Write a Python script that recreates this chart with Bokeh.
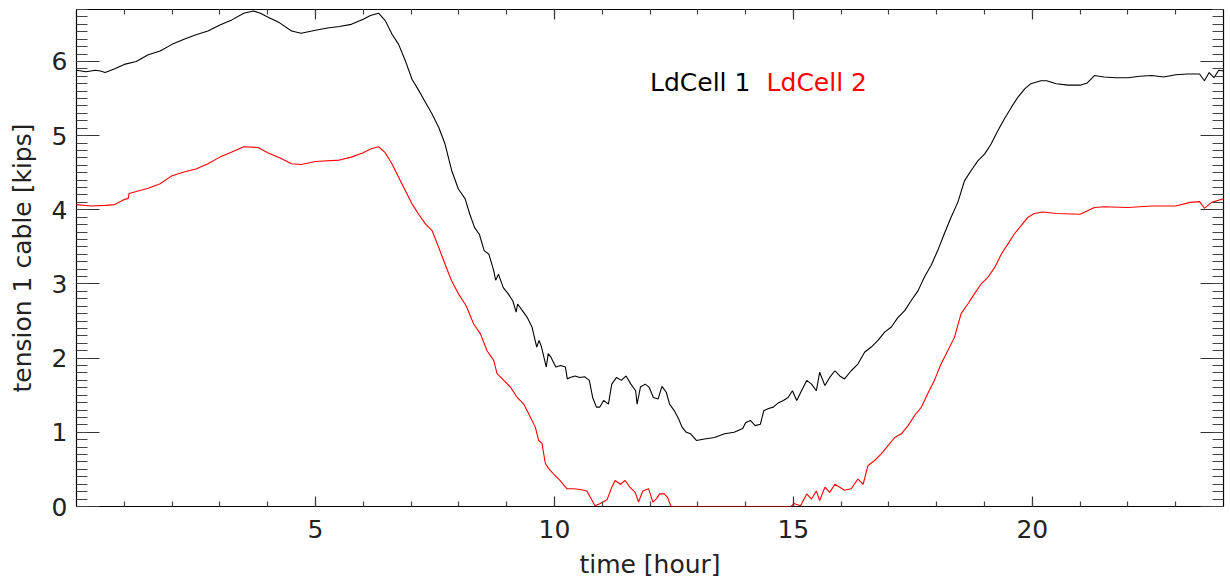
from bokeh.plotting import figure
from bokeh.models import FixedTicker, LinearAxis, Range1d, Label, CustomJSTickFormatter
from bokeh.embed import file_html
from bokeh.resources import INLINE

# ---------------- data ----------------
t_black = [0.0, 0.2, 0.4, 0.5, 0.6, 0.8, 1.0, 1.25, 1.5, 1.75, 2.0, 2.25, 2.5, 2.75, 3.0, 3.25, 3.5, 3.7, 3.85,
           4.0, 4.25, 4.5, 4.7, 5.0, 5.25, 5.5, 5.75, 6.0, 6.15, 6.32, 6.46, 6.60, 6.74, 6.88, 7.02, 7.16, 7.30,
           7.44, 7.58, 7.71, 7.85, 7.99, 8.13, 8.23, 8.33, 8.43, 8.53, 8.63, 8.73, 8.77, 8.83, 8.93, 9.03, 9.13,
           9.20, 9.23, 9.33, 9.43, 9.53, 9.63, 9.68, 9.73, 9.83, 9.87, 9.93, 10.03, 10.13, 10.23, 10.27, 10.33,
           10.43, 10.53, 10.63, 10.73, 10.80, 10.88, 10.95, 11.03, 11.13, 11.20, 11.30, 11.40, 11.50, 11.60,
           11.70, 11.73, 11.80, 11.90, 11.98, 12.07, 12.17, 12.25, 12.34, 12.41, 12.51, 12.60, 12.67, 12.76,
           12.85, 12.97, 13.14, 13.35, 13.56, 13.76, 13.94, 14.00, 14.10, 14.20, 14.31, 14.38, 14.48, 14.58,
           14.69, 14.79, 14.89, 14.98, 15.07, 15.17, 15.28, 15.38, 15.48, 15.55, 15.66, 15.76, 15.87, 15.97,
           16.07, 16.21, 16.35, 16.49, 16.63, 16.77, 16.91, 17.05, 17.19, 17.33, 17.47, 17.61, 17.74, 17.88,
           18.02, 18.16, 18.30, 18.44, 18.58, 18.72, 18.86, 19.00, 19.14, 19.28, 19.42, 19.56, 19.70, 19.84,
           19.97, 20.18, 20.3, 20.5, 20.75, 21.0, 21.15, 21.3, 21.5, 21.75, 22.0, 22.25, 22.5, 22.75, 23.0,
           23.25, 23.5, 23.6, 23.7, 23.8, 23.9, 24.0]
v_black = [5.88, 5.86, 5.88, 5.87, 5.85, 5.90, 5.96, 6.00, 6.09, 6.14, 6.23, 6.30, 6.36, 6.41, 6.49, 6.56, 6.65,
           6.68, 6.65, 6.60, 6.52, 6.41, 6.38, 6.42, 6.45, 6.47, 6.50, 6.57, 6.62, 6.65, 6.55, 6.37, 6.23, 6.01,
           5.76, 5.61, 5.45, 5.29, 5.11, 4.89, 4.53, 4.28, 4.15, 3.94, 3.76, 3.67, 3.45, 3.40, 3.18, 3.05, 3.13,
           2.95, 2.87, 2.77, 2.62, 2.73, 2.64, 2.55, 2.42, 2.15, 2.24, 2.15, 1.88, 2.06, 2.01, 1.88, 1.90, 1.88,
           1.72, 1.74, 1.76, 1.74, 1.75, 1.70, 1.47, 1.34, 1.34, 1.43, 1.38, 1.65, 1.74, 1.70, 1.76, 1.65, 1.56,
           1.38, 1.61, 1.65, 1.61, 1.47, 1.45, 1.62, 1.54, 1.38, 1.29, 1.18, 1.07, 1.00, 0.98, 0.89, 0.91, 0.93,
           0.98, 1.00, 1.05, 1.13, 1.16, 1.09, 1.11, 1.29, 1.32, 1.34, 1.40, 1.43, 1.47, 1.56, 1.43, 1.56, 1.70,
           1.65, 1.56, 1.81, 1.63, 1.74, 1.83, 1.76, 1.72, 1.83, 1.92, 2.08, 2.15, 2.24, 2.35, 2.42, 2.55, 2.64,
           2.78, 2.91, 3.09, 3.25, 3.45, 3.68, 3.90, 4.10, 4.39, 4.53, 4.66, 4.75, 4.89, 5.07, 5.23, 5.38, 5.52,
           5.63, 5.70, 5.74, 5.74, 5.70, 5.68, 5.68, 5.71, 5.81, 5.79, 5.78, 5.78, 5.80, 5.81, 5.79, 5.82, 5.83,
           5.83, 5.74, 5.85, 5.78, 5.88, 5.87]

t_red = [0.0, 0.3, 0.6, 0.8, 1.0, 1.08, 1.1, 1.5, 1.75, 2.0, 2.25, 2.5, 2.75, 3.0, 3.25, 3.5, 3.8, 4.0, 4.25,
         4.5, 4.7, 5.0, 5.5, 5.75, 6.0, 6.15, 6.32, 6.46, 6.60, 6.74, 6.88, 7.02, 7.16, 7.30, 7.44, 7.58, 7.71,
         7.85, 7.99, 8.13, 8.17, 8.31, 8.45, 8.59, 8.73, 8.80, 8.94, 9.08, 9.22, 9.36, 9.50, 9.60, 9.67, 9.74,
         9.81, 9.88, 9.98, 10.12, 10.26, 10.40, 10.54, 10.68, 10.78, 10.85, 10.96, 11.10, 11.20, 11.27, 11.38,
         11.48, 11.58, 11.69, 11.76, 11.85, 11.97, 12.06, 12.14, 12.20, 12.30, 12.37, 12.44, 14.95, 15.01,
         15.15, 15.28, 15.38, 15.48, 15.55, 15.66, 15.76, 15.87, 15.97, 16.07, 16.21, 16.35, 16.46, 16.56,
         16.70, 16.84, 16.98, 17.12, 17.26, 17.40, 17.54, 17.68, 17.81, 17.95, 18.09, 18.23, 18.37, 18.51,
         18.65, 18.79, 18.93, 19.07, 19.21, 19.35, 19.49, 19.63, 19.77, 19.91, 20.04, 20.22, 20.5, 21.0,
         21.3, 21.5, 22.0, 22.5, 23.0, 23.3, 23.5, 23.6, 23.75, 24.0]
v_red = [4.07, 4.05, 4.06, 4.07, 4.14, 4.15, 4.22, 4.29, 4.35, 4.46, 4.51, 4.55, 4.62, 4.71, 4.78, 4.85, 4.84,
         4.77, 4.70, 4.62, 4.61, 4.65, 4.67, 4.71, 4.77, 4.82, 4.85, 4.77, 4.62, 4.44, 4.26, 4.08, 3.94, 3.81,
         3.72, 3.49, 3.27, 3.04, 2.87, 2.73, 2.68, 2.46, 2.33, 2.10, 1.97, 1.79, 1.70, 1.61, 1.47, 1.38, 1.20,
         1.07, 0.89, 0.85, 0.58, 0.51, 0.44, 0.35, 0.24, 0.24, 0.23, 0.21, 0.09, 0.01, 0.04, 0.09, 0.26, 0.35,
         0.30, 0.35, 0.26, 0.19, 0.06, 0.21, 0.24, 0.06, 0.11, 0.17, 0.17, 0.12, 0.00, 0.00, 0.04, 0.01, 0.17,
         0.10, 0.21, 0.08, 0.26, 0.19, 0.30, 0.26, 0.22, 0.24, 0.37, 0.30, 0.55, 0.62, 0.71, 0.82, 0.93, 0.98,
         1.09, 1.23, 1.34, 1.52, 1.70, 1.92, 2.10, 2.28, 2.60, 2.73, 2.87, 3.00, 3.09, 3.22, 3.40, 3.54, 3.68,
         3.79, 3.90, 3.95, 3.97, 3.95, 3.94, 4.03, 4.04, 4.03, 4.05, 4.05, 4.10, 4.11, 4.02, 4.10, 4.15]

series_names = ["LdCell 1", "LdCell 2"]
x_major = [5, 10, 15, 20]
x_minor = list(range(1, 24))
y_major = [0, 1, 2, 3, 4, 5, 6]
y_minor = [round(0.1 * i, 1) for i in range(0, 68)]

# ---------------- figure ----------------
FONT = "DejaVu Sans"
TXT = "#222222"

p = figure(width=1230, height=582, x_range=Range1d(0, 24), y_range=Range1d(0, 6.7),
           output_backend="svg", toolbar_location=None,
           min_border_left=76, min_border_right=7, min_border_top=9, min_border_bottom=76)
p.xgrid.visible = False
p.ygrid.visible = False
p.outline_line_color = "black"
p.outline_line_width = 1.2
p.background_fill_color = "white"
p.border_fill_color = "white"

p.line(t_black, v_black, line_color="black", line_width=1.1)
p.line(t_red, v_red, line_color="#ff0000", line_width=1.1)


def style_axis(ax, ticker, tin, tmin, show_labels=True):
    ax.ticker = ticker
    ax.axis_line_color = None
    ax.major_tick_in = tin
    ax.major_tick_out = 0
    ax.minor_tick_in = tmin
    ax.minor_tick_out = 0
    ax.major_tick_line_color = "#333333"
    ax.minor_tick_line_color = "#444444"
    ax.major_tick_line_width = 1.2
    ax.minor_tick_line_width = 1.2
    ax.major_label_text_font = FONT
    ax.major_label_text_color = TXT
    ax.axis_label_text_font = FONT
    ax.axis_label_text_color = TXT
    ax.axis_label_text_font_style = "normal"
    if not show_labels:
        ax.formatter = CustomJSTickFormatter(code="return ''")
        ax.major_label_text_font_size = "1px"
        ax.major_label_standoff = 0


xt = FixedTicker(ticks=x_major, minor_ticks=x_minor)
yt = FixedTicker(ticks=y_major, minor_ticks=y_minor)

xb = p.xaxis[0]
style_axis(xb, xt, 10, 5)
xb.major_label_text_font_size = "25px"
xb.major_label_standoff = 13
xb.axis_label = "time [hour]"
xb.axis_label_text_font_size = "25px"
xb.axis_label_standoff = 9

yl = p.yaxis[0]
style_axis(yl, yt, 23, 11)
yl.major_label_text_font_size = "25px"
yl.major_label_standoff = 9
yl.axis_label = "tension 1 cable [kips]"
yl.axis_label_text_font_size = "25px"
yl.axis_label_standoff = 12

xtop = LinearAxis()
style_axis(xtop, FixedTicker(ticks=x_major, minor_ticks=x_minor), 10, 5, show_labels=False)
p.add_layout(xtop, "above")

yr = LinearAxis()
style_axis(yr, FixedTicker(ticks=y_major, minor_ticks=y_minor), 23, 11, show_labels=False)
p.add_layout(yr, "right")

# legend-like labels
p.add_layout(Label(x=12.0, y=5.72, text=series_names[0], text_font=FONT, text_font_size="25px",
                   text_color="black", text_baseline="alphabetic"))
p.add_layout(Label(x=14.44, y=5.72, text=series_names[1], text_font=FONT, text_font_size="25px",
                   text_color="#ff0000", text_baseline="alphabetic"))

open("out.html", "w").write(file_html(p, INLINE))
